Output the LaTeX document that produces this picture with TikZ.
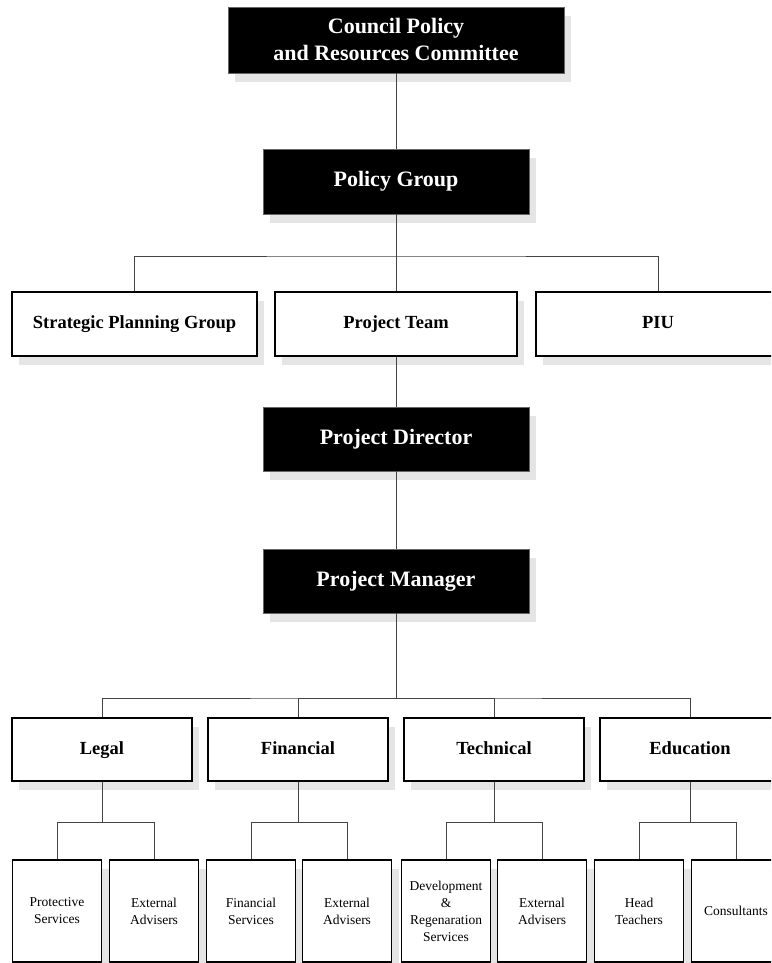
\documentclass[tikz,border=0pt]{standalone}
\usepackage{fontspec}
\setmainfont{Liberation Serif}
\usetikzlibrary{shadows}
\definecolor{shadowgray}{HTML}{E5E5E5}
\definecolor{linegray}{HTML}{444444}
\begin{document}
\begin{tikzpicture}[x=1pt,y=-1pt,
  shad/.style={general shadow={shadow xshift=7pt, shadow yshift=-9pt, fill=shadowgray}},
  blackbox/.style={shad, rectangle, fill=black, draw=black!60, line width=0.6pt, inner sep=0pt,
    text=white, align=center, font=\fontsize{22}{27}\selectfont\bfseries},
  whitebox/.style={shad, rectangle, fill=white, draw=black, line width=1.6pt, inner sep=0pt,
    align=center, text height=13pt, text depth=4pt, font=\fontsize{18.5}{22}\selectfont\bfseries},
  smallbox/.style={shad, rectangle, fill=white, draw=black, line width=1.6pt, inner sep=0pt,
    align=center, minimum width=89pt, minimum height=102pt, font=\fontsize{13.5}{17}\selectfont},
  conn/.style={draw=linegray, line width=0.9pt}]
\useasboundingbox (0,0) rectangle (771,963);
\clip (0,0) rectangle (771,963);

% top levels
\node[blackbox, minimum width=336pt, minimum height=66pt] (cpr) at (396,40) {Council Policy\\and Resources Committee};
\node[blackbox, minimum width=266pt, minimum height=65pt] (pg) at (396,181.5) {Policy Group};

% second row
\node[whitebox, minimum width=245pt, minimum height=64pt] (spg) at (134.5,324) {Strategic Planning Group};
\node[whitebox, minimum width=242pt, minimum height=64pt] (pt) at (396,324) {Project Team};
\node[whitebox, minimum width=244pt, minimum height=64pt] (piu) at (658,324) {PIU};

\node[blackbox, minimum width=266pt, minimum height=64pt] (pd) at (396,439) {Project Director};
\node[blackbox, minimum width=266pt, minimum height=64pt] (pm) at (396,581) {Project Manager};

% third row
\node[whitebox, minimum width=180pt, minimum height=63pt] (legal) at (102,749.5) {Legal};
\node[whitebox, minimum width=180pt, minimum height=63pt] (fin) at (298,749.5) {Financial};
\node[whitebox, minimum width=180pt, minimum height=63pt] (tech) at (494,749.5) {Technical};
\node[whitebox, minimum width=180pt, minimum height=63pt] (edu) at (690,749.5) {Education};

% bottom row
\node[smallbox] (la) at (57,911) {Protective\\Services};
\node[smallbox] (lb) at (154,911) {External\\Advisers};
\node[smallbox] (fa) at (251,911) {Financial\\Services};
\node[smallbox] (fb) at (347,911) {External\\Advisers};
\node[smallbox] (ta) at (446,911) {Development\\\&\\Regenaration\\Services};
\node[smallbox] (tb) at (542,911) {External\\Advisers};
\node[smallbox] (ea) at (639,911) {Head\\Teachers};
\node[smallbox] (eb) at (736,911) {Consultants};

% junctions
\coordinate (j1) at (396,256);
\coordinate (j2) at (396,698);
\coordinate (jl) at (102,822);
\coordinate (jf) at (298,822);
\coordinate (jt) at (494,822);
\coordinate (je) at (690,822);

% connectors
\draw[conn] (cpr.south) -- (pg.north);
\draw[conn] (pg.south) -- (pt.north);
\draw[conn] (spg.north) |- (j1) -| (piu.north);
\draw[conn] (pt.south) -- (pd.north);
\draw[conn] (pd.south) -- (pm.north);
\draw[conn] (pm.south) -- (j2);
\draw[conn] (legal.north) |- (j2) -| (edu.north);
\draw[conn] (fin.north) |- (j2);
\draw[conn] (tech.north) |- (j2);
\draw[conn] (legal.south) -- (jl);
\draw[conn] (la.north) |- (jl) -| (lb.north);
\draw[conn] (fin.south) -- (jf);
\draw[conn] (fa.north) |- (jf) -| (fb.north);
\draw[conn] (tech.south) -- (jt);
\draw[conn] (ta.north) |- (jt) -| (tb.north);
\draw[conn] (edu.south) -- (je);
\draw[conn] (ea.north) |- (je) -| (eb.north);
\end{tikzpicture}
\end{document}
